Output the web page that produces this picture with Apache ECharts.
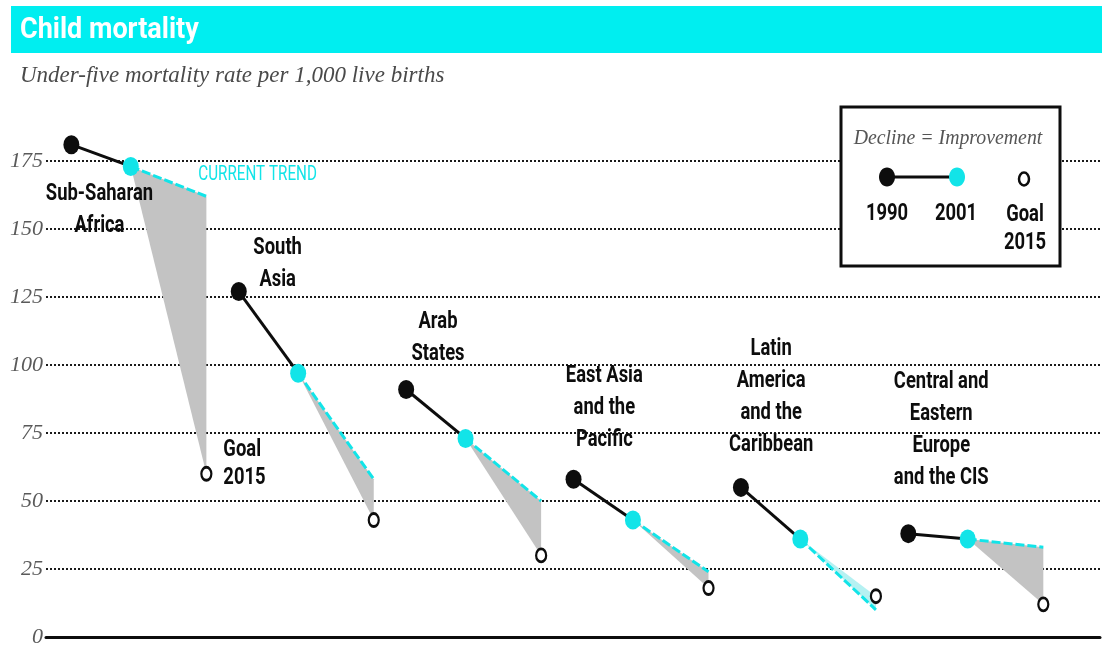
<!DOCTYPE html>
<html>
<head>
<meta charset="utf-8">
<title>Child mortality</title>
<script src="https://cdn.jsdelivr.net/npm/echarts@6/dist/echarts.min.js"></script>
<style>
  html, body { margin: 0; padding: 0; background: #ffffff; }
  #chart { width: 1102px; height: 648px; }
</style>
</head>
<body>
<div id="chart"></div>
<script>
// Under-five mortality rate per 1,000 live births, by region
const regions = [
  'Sub-Saharan Africa',
  'South Asia',
  'Arab States',
  'East Asia and the Pacific',
  'Latin America and the Caribbean',
  'Central and Eastern Europe and the CIS'
];
const regionLabelLines = [
  ['Sub-Saharan', 'Africa'],
  ['South', 'Asia'],
  ['Arab', 'States'],
  ['East Asia', 'and the', 'Pacific'],
  ['Latin', 'America', 'and the', 'Caribbean'],
  ['Central and', 'Eastern', 'Europe', 'and the CIS']
];
const years = [1990, 2001, 2015];
const rate1990 = [181, 127, 91, 58, 55, 38];
const rate2001 = [173, 97, 73, 43, 36, 36];
const trend2015 = [162, 58, 50, 24, 10, 33];
const goal2015 = [60, 43, 30, 18, 15, 12];
const yTicks = [0, 25, 50, 75, 100, 125, 150, 175];

// ---- layout ----
const GROUP_SPAN = 31;               // x-axis room (in years) given to each region
const xOf = (i, year) => i * GROUP_SPAN + (year - years[0]);
// where each region name sits: [years after 1990, rate value]
const labelAnchor = [[5.2, 157], [7.2, 137], [5.9, 110], [5.7, 84], [5.6, 88], [6.1, 76]];

const CYAN = '#12e4e8';
const BAND = '#00eef0';
const INK = '#0d0d0d';
const GREY_FILL = '#c3c3c3';
const LIGHT_CYAN_FILL = '#b5f1f2';
const SANS = "Roboto, 'Noto Sans', sans-serif";
const SERIF = "'Liberation Serif', 'DejaVu Serif', serif";
const NARROW = 0.8;                  // horizontal squeeze for the condensed lettering

const rows = regions.map((r, i) => [i, rate1990[i], rate2001[i], trend2015[i], goal2015[i]]);

function narrowText(x, y, text, font, fill, align, extra) {
  return Object.assign({
    type: 'text', x: x, y: y, scaleX: NARROW, scaleY: 1,
    style: {
      x: 0, y: 0, text: text, font: font, fill: fill,
      align: align || 'center', verticalAlign: 'middle', lineHeight: 32
    }
  }, extra || {});
}

const chart = echarts.init(document.getElementById('chart'), null, { renderer: 'canvas' });

const option = {
  backgroundColor: '#ffffff',
  animation: false,
  grid: { left: 46, right: 2, top: 161, bottom: 10, containLabel: false },
  xAxis: {
    type: 'value',
    min: -4.7,
    max: 190.5,
    axisLine: { show: true, lineStyle: { color: INK, width: 3 } },
    axisTick: { show: false },
    axisLabel: { show: false },
    splitLine: { show: false }
  },
  yAxis: {
    type: 'value',
    min: yTicks[0],
    max: yTicks[yTicks.length - 1],
    interval: yTicks[1] - yTicks[0],
    axisLine: { show: false },
    axisTick: { show: false },
    axisLabel: {
      margin: 3,
      fontFamily: SERIF,
      fontStyle: 'italic',
      fontSize: 22,
      color: '#5a5a5a'
    },
    splitLine: {
      show: true,
      lineStyle: { color: '#1a1a1a', width: 2, type: [2, 2] }
    }
  },
  series: [
    {
      // shaded gap between current trend and the 2015 goal, plus the connecting lines
      name: 'paths',
      type: 'custom',
      clip: false,
      z: 2,
      data: rows,
      renderItem: function (params, api) {
        const i = api.value(0);
        const p90 = api.coord([xOf(i, years[0]), api.value(1)]);
        const p01 = api.coord([xOf(i, years[1]), api.value(2)]);
        const pTr = api.coord([xOf(i, years[2]), api.value(3)]);
        const pGo = api.coord([xOf(i, years[2]), api.value(4)]);
        const behind = api.value(3) > api.value(4);
        return {
          type: 'group',
          children: [
            {
              type: 'polygon',
              shape: { points: [p01, pTr, pGo] },
              style: { fill: behind ? GREY_FILL : LIGHT_CYAN_FILL, stroke: null }
            },
            {
              type: 'line',
              shape: { x1: p90[0], y1: p90[1], x2: p01[0], y2: p01[1] },
              style: { stroke: INK, lineWidth: 3 }
            },
            {
              type: 'line',
              shape: { x1: p01[0], y1: p01[1], x2: pTr[0], y2: pTr[1] },
              style: { stroke: CYAN, lineWidth: 3, lineDash: [9, 3] }
            }
          ]
        };
      }
    },
    {
      name: '1990',
      type: 'scatter',
      clip: false,
      z: 4,
      symbol: 'circle',
      symbolSize: [16, 19],
      itemStyle: { color: INK, opacity: 1 },
      data: rate1990.map((v, i) => [xOf(i, years[0]), v])
    },
    {
      name: '2001',
      type: 'scatter',
      clip: false,
      z: 4,
      symbol: 'circle',
      symbolSize: [16, 19],
      itemStyle: { color: CYAN, opacity: 1 },
      data: rate2001.map((v, i) => [xOf(i, years[1]), v])
    },
    {
      name: 'Goal 2015',
      type: 'scatter',
      clip: false,
      z: 4,
      symbol: 'circle',
      symbolSize: [10, 13],
      itemStyle: { color: '#ffffff', borderColor: INK, borderWidth: 2.5, opacity: 1 },
      data: goal2015.map((v, i) => [xOf(i, years[2]), v])
    },
    {
      // region names and the notes beside the first region
      name: 'labels',
      type: 'custom',
      clip: false,
      z: 5,
      data: rows,
      renderItem: function (params, api) {
        const i = api.value(0);
        const a = labelAnchor[i];
        const p = api.coord([xOf(i, years[0]) + a[0], a[1]]);
        const children = [
          narrowText(p[0], p[1], regionLabelLines[i].join('\n'), 'bold 23px ' + SANS, INK)
        ];
        if (i === 0) {
          const pGo = api.coord([xOf(i, years[2]), api.value(4)]);
          const pTr = api.coord([xOf(i, years[2]), api.value(3)]);
          children.push(narrowText(pGo[0] + 17, pGo[1] - 10, 'Goal\n2015', 'bold 23px ' + SANS, INK, 'left',
            { style: { x: 0, y: 0, text: 'Goal\n2015', font: 'bold 23px ' + SANS, fill: INK,
                       align: 'left', verticalAlign: 'middle', lineHeight: 28 } }));
          children.push(narrowText(pTr[0] - 8, pTr[1] - 21, 'CURRENT TREND', '20px ' + SANS, CYAN, 'left',
            { scaleX: 0.76 }));
        }
        return { type: 'group', children: children };
      }
    }
  ],
  graphic: [
    // header band
    {
      type: 'rect', left: 11, top: 6, z: 100,
      shape: { width: 1091, height: 47 },
      style: { fill: BAND }
    },
    {
      type: 'text', x: 20, y: 30, z: 101, scaleX: 0.9,
      style: {
        x: 0, y: 0,
        text: 'Child mortality',
        fill: '#ffffff',
        font: 'bold 30px ' + SANS,
        verticalAlign: 'middle'
      }
    },
    {
      type: 'text', left: 20, top: 64, z: 101,
      style: {
        text: 'Under-five mortality rate per 1,000 live births',
        fill: '#4a4a4a',
        font: 'italic 23px ' + SERIF
      }
    },
    // key box
    {
      type: 'group', x: 841, y: 107, z: 100,
      children: [
        {
          type: 'rect', z: 100,
          shape: { x: 0, y: 0, width: 219, height: 159 },
          style: { fill: '#ffffff', stroke: INK, lineWidth: 3 }
        },
        {
          type: 'text', z: 101, x: 107, y: 31, scaleX: 0.9,
          style: {
            x: 0, y: 0,
            text: 'Decline = Improvement', fill: '#555555',
            font: 'italic 22px ' + SERIF, align: 'center', verticalAlign: 'middle'
          }
        },
        {
          type: 'line', z: 101,
          shape: { x1: 46, y1: 70, x2: 116, y2: 70 },
          style: { stroke: INK, lineWidth: 3 }
        },
        { type: 'ellipse', z: 102, shape: { cx: 46, cy: 70, rx: 8, ry: 9.5 }, style: { fill: INK } },
        { type: 'ellipse', z: 102, shape: { cx: 116, cy: 70, rx: 8, ry: 9.5 }, style: { fill: CYAN } },
        {
          type: 'ellipse', z: 102, shape: { cx: 183, cy: 72, rx: 5, ry: 6.5 },
          style: { fill: '#ffffff', stroke: INK, lineWidth: 2.5 }
        },
        Object.assign(narrowText(46, 107, '1990', 'bold 23px ' + SANS, INK), { z: 101 }),
        Object.assign(narrowText(115, 107, '2001', 'bold 23px ' + SANS, INK), { z: 101 }),
        {
          type: 'text', z: 101, x: 184, y: 122, scaleX: NARROW,
          style: {
            x: 0, y: 0,
            text: 'Goal\n2015', fill: INK, font: 'bold 23px ' + SANS,
            align: 'center', verticalAlign: 'middle', lineHeight: 28
          }
        }
      ]
    }
  ]
};

chart.setOption(option);
</script>
</body>
</html>
